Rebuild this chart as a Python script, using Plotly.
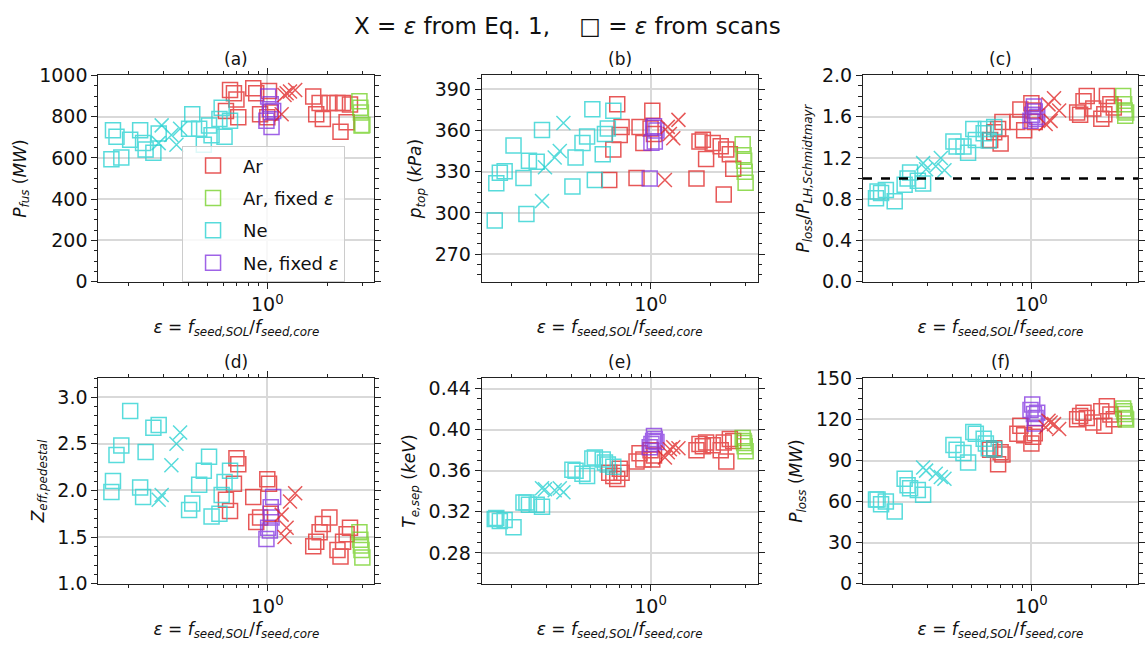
import plotly.graph_objects as go

# ---------------------------------------------------------------------------
# Seed-impurity compression ratio eps = f_seed,SOL / f_seed,core for each case
# ---------------------------------------------------------------------------
ar_eps = [0.62, 0.65, 0.68, 0.70, 0.715, 0.85, 0.88, 0.92, 1.00, 1.02, 1.04,
          1.70, 1.76, 1.83, 1.90, 2.05, 2.25, 2.33, 2.40, 2.50, 2.60]
ar_fix_eps = [2.90, 2.93, 2.95, 2.97, 3.00]
ne_eps = [0.165, 0.168, 0.175, 0.185, 0.205, 0.23, 0.238, 0.245, 0.268, 0.285,
          0.405, 0.42, 0.455, 0.48, 0.51, 0.525, 0.575, 0.59, 0.61, 0.65]
ne_fix_eps = [0.99, 1.01, 1.03, 1.04, 1.05, 1.07]
# eps predicted from Eq. 1
ar_eq_eps = [1.18, 1.22, 1.25, 1.30, 1.38]
ne_eq_eps = [0.285, 0.295, 0.33, 0.35, 0.365]

# (a) fusion power [MW]
pfus_ar = [828, 930, 914, 883, 797, 938, 914, 812, 797, 925, 820,
           898, 812, 867, 789, 867, 867, 727, 867, 773, 859]
pfus_ar_fix = [875, 844, 820, 758, 760]
pfus_ne = [594, 734, 703, 602, 688, 734, 672, 641, 625, 719,
           742, 812, 742, 664, 758, 710, 789, 844, 703, 781]
pfus_ne_fix = [781, 898, 836, 860, 750, 828]
pfus_ar_eq = [812, 905, 914, 922, 930]
pfus_ne_eq = [672, 758, 711, 664, 742]

# (b) pedestal-top pressure [kPa]
ptop_ar = [323.9, 346.2, 379.0, 356.7, 362.6, 325.5, 362.6, 350.9, 361.4, 374.3, 357.5,
           325.1, 352.0, 353.2, 339.2, 350.9, 348.5, 313.4, 346.2, 342.7, 332.2]
ptop_ar_fix = [350, 342, 338, 330, 322]
ptop_ne = [294.6, 321.6, 329.3, 330.3, 349.0, 325.5, 299.3, 338.0, 337.3, 360.3,
           319.2, 340.3, 350.9, 355.6, 375.5, 323.9, 342.7, 357.5, 361.4, 374.3]
ptop_ne_fix = [325, 351, 362, 363, 352, 360]
ptop_ar_eq = [324, 362.6, 357.5, 354.4, 367.7]
ptop_ne_eq = [308.7, 333.3, 340.3, 345.0, 365.4]

# (c) P_loss / P_LH (Schmidtmayr scaling)
plh_ar = [1.375, 1.45, 1.48, 1.34, 1.55, 1.55, 1.67, 1.47, 1.73, 1.66, 1.55,
          1.64, 1.62, 1.75, 1.80, 1.68, 1.58, 1.625, 1.80, 1.72, 1.69]
plh_ar_fix = [1.80, 1.72, 1.66, 1.61, 1.64]
plh_ne = [0.81, 0.875, 0.86, 0.89, 0.78, 0.94, 1.00, 1.06, 0.98, 0.953,
          1.36, 1.31, 1.31, 1.25, 1.48, 1.375, 1.44, 1.48, 1.37, 1.50]
plh_ne_fix = [1.56, 1.62, 1.70, 1.65, 1.58, 1.60]
plh_ar_eq = [1.53, 1.72, 1.56, 1.78, 1.66]
plh_ne_eq = [1.15, 1.09, 1.12, 1.20, 1.08]

# (d) pedestal Z_eff
zeff_ar = [1.90, 1.78, 2.07, 2.345, 2.28, 1.93, 1.66, 1.71, 2.12, 2.07, 1.75,
           1.40, 1.45, 1.55, 1.64, 1.71, 1.36, 1.29, 1.45, 1.53, 1.60]
zeff_ar_fix = [1.55, 1.47, 1.41, 1.36, 1.28]
zeff_ne = [1.983, 2.10, 2.38, 2.48, 2.85, 2.03, 1.93, 2.41, 2.67, 2.70,
           1.79, 1.86, 2.06, 2.21, 2.36, 1.72, 1.75, 1.95, 2.09, 2.21]
zeff_ne_fix = [1.48, 1.60, 1.57, 1.82, 1.71, 1.93]
zeff_ar_eq = [1.74, 1.50, 1.60, 1.88, 1.97]
zeff_ne_eq = [1.90, 1.95, 2.27, 2.50, 2.62]

# (e) separatrix electron temperature [keV]
tsep_ar = [0.358, 0.355, 0.352, 0.362, 0.358, 0.369, 0.377, 0.371, 0.380, 0.371, 0.375,
           0.380, 0.386, 0.384, 0.3875, 0.385, 0.380, 0.3875, 0.369, 0.391, 0.389]
tsep_ar_fix = [0.392, 0.389, 0.387, 0.384, 0.379]
tsep_ne = [0.313, 0.314, 0.311, 0.312, 0.305, 0.329, 0.329, 0.327, 0.327, 0.325,
           0.361, 0.360, 0.357, 0.355, 0.372, 0.373, 0.371, 0.368, 0.366, 0.364]
tsep_ne_fix = [0.383, 0.386, 0.389, 0.394, 0.391, 0.388]
tsep_ar_eq = [0.373, 0.378, 0.381, 0.383, 0.382]
tsep_ne_eq = [0.343, 0.342, 0.341, 0.343, 0.339]

# (f) loss power [MW]
ploss_ar = [97.9, 99.0, 87.3, 96.0, 94.4, 109.6, 115.5, 108.5, 102.5, 107.3, 110.0,
            120.1, 122.5, 124.9, 121.0, 117.8, 126.0, 115.5, 129.6, 123.7, 120.1]
ploss_ar_fix = [128, 126, 124, 121, 120]
ploss_ne = [61.5, 61.5, 58.0, 60.0, 52.8, 76.7, 72.0, 69.7, 68.5, 65.0,
            101.4, 97.9, 95.5, 88.5, 110.8, 109.6, 106.0, 102.5, 99.0, 98.0]
ploss_ne_fix = [127, 131, 124, 117, 121, 125]
ploss_ar_eq = [114.3, 119.0, 117.8, 116.6, 113.1]
ploss_ne_eq = [84.9, 82.6, 80.3, 78.0, 76.7]

# ---------------------------------------------------------------------------
FONT = "DejaVu Sans"
C_AR, C_AR_FIX, C_NE, C_NE_FIX = "#e02020", "#70d020", "#20d0d0", "#8030e0"

panels = [
    dict(tag="(a)", ytitle="<i>P<sub>fus</sub></i> (<i>MW</i>)",
         yrange=[0, 1000], dtick=200, tick0=0, minor=50, fmt="d",
         ys=[pfus_ar, pfus_ar_fix, pfus_ne, pfus_ne_fix, pfus_ar_eq, pfus_ne_eq]),
    dict(tag="(b)", ytitle="<i>p<sub>top</sub></i> (<i>kPa</i>)",
         yrange=[250, 400], dtick=30, tick0=270, minor=7.5, fmt="d",
         ys=[ptop_ar, ptop_ar_fix, ptop_ne, ptop_ne_fix, ptop_ar_eq, ptop_ne_eq]),
    dict(tag="(c)", ytitle="<i>P<sub>loss</sub></i>/<i>P<sub>LH,Schmidtmayr</sub></i>",
         yrange=[0, 2.0], dtick=0.4, tick0=0, minor=0.1, fmt=".1f",
         ys=[plh_ar, plh_ar_fix, plh_ne, plh_ne_fix, plh_ar_eq, plh_ne_eq]),
    dict(tag="(d)", ytitle="<i>Z<sub>eff,pedestal</sub></i>",
         yrange=[1.0, 3.2], dtick=0.5, tick0=1.0, minor=0.1, fmt=".1f",
         ys=[zeff_ar, zeff_ar_fix, zeff_ne, zeff_ne_fix, zeff_ar_eq, zeff_ne_eq]),
    dict(tag="(e)", ytitle="<i>T<sub>e,sep</sub></i> (<i>keV</i>)",
         yrange=[0.25, 0.45], dtick=0.04, tick0=0.28, minor=0.01, fmt=".2f",
         ys=[tsep_ar, tsep_ar_fix, tsep_ne, tsep_ne_fix, tsep_ar_eq, tsep_ne_eq]),
    dict(tag="(f)", ytitle="<i>P<sub>loss</sub></i> (<i>MW</i>)",
         yrange=[0, 150], dtick=30, tick0=0, minor=7.5, fmt="d",
         ys=[ploss_ar, ploss_ar_fix, ploss_ne, ploss_ne_fix, ploss_ar_eq, ploss_ne_eq]),
]

xs = [ar_eps, ar_fix_eps, ne_eps, ne_fix_eps, ar_eq_eps, ne_eq_eps]
names = ["Ar", "Ar, fixed <i>ε</i>", "Ne", "Ne, fixed <i>ε</i>", "Ar, Eq. 1", "Ne, Eq. 1"]
colors = [C_AR, C_AR_FIX, C_NE, C_NE_FIX, C_AR, C_NE]
symbols = ["square-open"] * 4 + ["x-thin-open"] * 2
sizes = [15] * 4 + [14] * 2

col_dom = [[0.0859, 0.3269], [0.4207, 0.6616], [0.7537, 0.9939]]
row_dom = [[0.5777, 0.8994], [0.1066, 0.4268]]

fig = go.Figure()
annotations = []
shapes = []

minor_x = [0.2, 0.3, 0.4, 0.5, 0.6, 0.7, 0.8, 0.9, 2, 3]

for i, p in enumerate(panels):
    r, c = divmod(i, 3)
    n = i + 1
    xa = "x" if n == 1 else f"x{n}"
    ya = "y" if n == 1 else f"y{n}"
    for k in range(6):
        fig.add_trace(go.Scatter(
            x=xs[k], y=p["ys"][k], xaxis=xa, yaxis=ya, mode="markers",
            name=names[k], legendgroup=names[k],
            showlegend=(i == 0 and k < 4),
            opacity=0.75,
            marker=dict(symbol=symbols[k], size=sizes[k], color=colors[k],
                        line=dict(width=1.5, color=colors[k])),
        ))
    axcommon = dict(showline=True, linecolor="#222", linewidth=1, mirror="allticks",
                    ticks="outside", ticklen=6, tickwidth=1, tickcolor="#222",
                    showgrid=True, gridcolor="#d9d9d9", gridwidth=1.5, zeroline=False,
                    tickfont=dict(family=FONT, size=19, color="#111"))
    fig.layout[("xaxis" if n == 1 else f"xaxis{n}")] = dict(
        axcommon, type="log", domain=col_dom[c], anchor=ya,
        range=[-0.848, 0.537], tickvals=[1], ticktext=["10<sup>0</sup>"],
        minor=dict(tickvals=minor_x, ticks="outside", ticklen=3.5, tickcolor="#222",
                   showgrid=False),
        title=dict(text="<i>ε</i> = <i>f<sub>seed,SOL</sub></i>/<i>f<sub>seed,core</sub></i>",
                   font=dict(family=FONT, size=17, color="#111"), standoff=6),
    )
    fig.layout[("yaxis" if n == 1 else f"yaxis{n}")] = dict(
        axcommon, domain=row_dom[r], anchor=xa, range=p["yrange"],
        tickmode="linear", tick0=p["tick0"], dtick=p["dtick"], tickformat=p["fmt"],
        minor=dict(dtick=p["minor"], tick0=p["tick0"], ticks="outside", ticklen=3.5,
                   tickcolor="#222", showgrid=False),
        title=dict(text=p["ytitle"], font=dict(family=FONT, size=17, color="#111"),
                   standoff=8),
    )
    annotations.append(dict(
        text=p["tag"], xref="paper", yref="paper",
        x=sum(col_dom[c]) / 2, y=row_dom[r][1], xanchor="center", yanchor="bottom",
        yshift=4, showarrow=False, font=dict(family=FONT, size=17, color="#111")))

# H-mode access threshold in panel (c)
shapes.append(dict(type="line", xref="x3 domain", yref="y3", x0=0, x1=1, y0=1.0, y1=1.0,
                   line=dict(color="black", width=2.5, dash="dash")))

annotations.append(dict(
    text="X = <i>ε</i> from Eq. 1,\u00a0\u00a0\u00a0\u00a0\u25a1 = <i>ε</i> from scans",
    xref="paper", yref="paper", x=0.496, y=1 - 15 / 663, xanchor="center",
    yanchor="middle", showarrow=False, font=dict(family=FONT, size=23, color="#111")))

fig.update_layout(
    width=1145, height=663, autosize=False,
    margin=dict(l=0, r=0, t=0, b=0),
    paper_bgcolor="white", plot_bgcolor="white",
    font=dict(family=FONT, color="#111"),
    annotations=annotations, shapes=shapes,
    legend=dict(x=0.159, y=1 - 140 / 663, xanchor="left", yanchor="top",
                bgcolor="rgba(255,255,255,0.8)", bordercolor="#cccccc", borderwidth=1,
                font=dict(family=FONT, size=18, color="#111"), tracegroupgap=6,
                itemwidth=50),
)

fig.write_html("out.html")
